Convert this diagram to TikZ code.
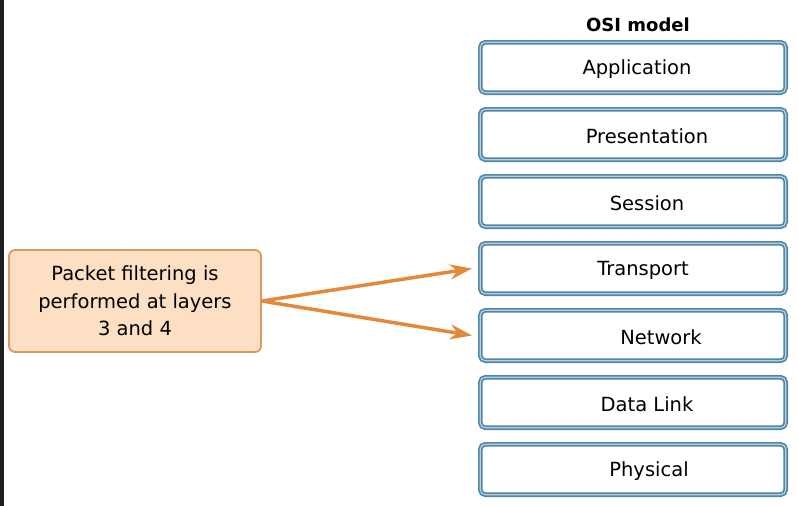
\documentclass[tikz,border=0pt]{standalone}
\usepackage{fontspec}
\setmainfont{DejaVu Sans}
\usetikzlibrary{positioning,arrows.meta}

\definecolor{osiblue}{HTML}{4F86A8}
\definecolor{peach}{HTML}{FDDFC4}
\definecolor{peachedge}{HTML}{D99A5E}
\definecolor{arroworange}{HTML}{E4893A}
\definecolor{darkstrip}{HTML}{1F1F1F}

\begin{document}
\begin{tikzpicture}[x=1pt, y=-1pt, >=Stealth, node distance=12pt,
	layer/.style={draw=osiblue, line width=1.7pt, double=osiblue!40, double distance=1.2pt,
		fill=white, rounded corners=5pt, outer sep=2.3pt,
		minimum width=305.4pt, minimum height=50.4pt, inner sep=0pt},
	layertext/.style={font=\fontsize{19.5}{22}\selectfont, inner sep=0pt},
	callout/.style={draw=peachedge, line width=1.8pt, fill=peach, rounded corners=6pt,
		minimum width=252pt, minimum height=102pt, align=center,
		font=\fontsize{19.5}{27.5}\selectfont},
	pointer/.style={-{Stealth[length=22pt,width=15pt]}, draw=arroworange, line width=3.5pt}]
	\useasboundingbox (0,0) rectangle (798,506);
	\fill[darkstrip] (0,0) rectangle (3.5,506);

	% the seven layers
	\node[layer] (application) at (633,67.5) {};
	\node[layer, below=of application] (presentation) {};
	\node[layer, below=of presentation] (session) {};
	\node[layer, below=of session] (transport) {};
	\node[layer, below=of transport] (network) {};
	\node[layer, below=of network] (datalink) {};
	\node[layer, below=of datalink] (physical) {};

	\foreach \n/\dx/\txt in {application/4/Application, presentation/14/Presentation,
		session/14/Session, transport/10/Transport, network/28/Network,
		datalink/14/Data Link, physical/16/Physical}
		\node[layertext] (\n-t) at ([xshift=\dx pt, yshift=-1.5pt]\n.center) {\txt};

	\node[above=5pt of application, font=\bfseries\fontsize{18}{20}\selectfont, xshift=5pt] (title) {OSI model};

	% callout
	\node[callout] (filter) at (135,301) {Packet filtering is\\performed at layers\\3 and 4};

	\draw[pointer] (filter.east) -- ([xshift=-6pt]transport.west);
	\draw[pointer] (filter.east) -- ([xshift=-6pt]network.west);
\end{tikzpicture}
\end{document}
